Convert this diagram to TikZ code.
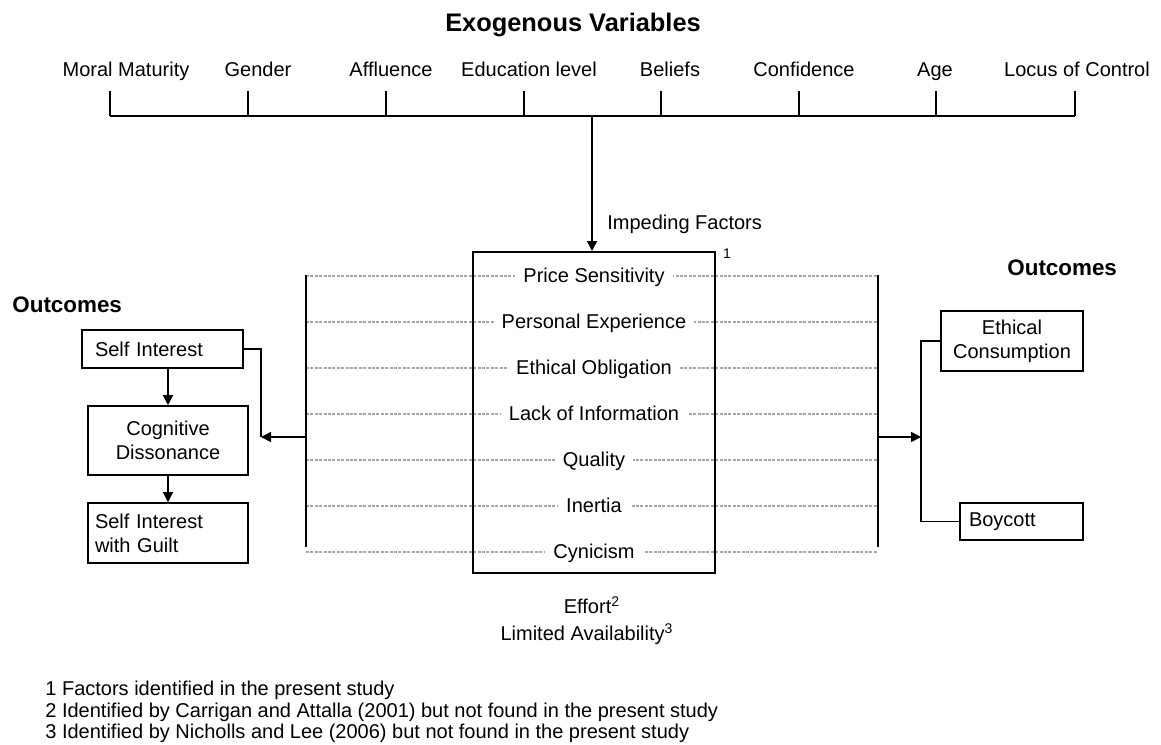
\documentclass[tikz,border=0pt]{standalone}
\usepackage{fontspec}
\setmainfont{Liberation Sans}
\usetikzlibrary{arrows.meta}

\tikzset{
  wire/.style={line width=0.8pt},
  arrow/.style={line width=0.8pt, -{Triangle[length=5pt,width=5pt]}},
  dotline/.style={line width=0.7pt, gray!70, dash pattern=on 1.5pt off 0.7pt},
  label/.style={text height=1.5ex, text depth=0.25ex},
  factor/.style={label, fill=white, inner xsep=4pt, inner ysep=1pt},
  outbox/.style={draw, line width=0.8pt, inner sep=0pt},
  heading/.style={font=\fontsize{11.2}{13}\selectfont\bfseries, inner sep=0pt},
  note/.style={font=\fontsize{7}{8}\selectfont},
}

\begin{document}
\begin{tikzpicture}[x=0.5pt, y=-0.5pt]
  %%%%% START %%%%%
  \useasboundingbox (0,0) rectangle (1161,744);

  \node[font=\fontsize{12.7}{15}\selectfont\bfseries] (exo) at (573,25) {Exogenous Variables};

  % exogenous variables on their bar
  \coordinate (barL) at (110,116);
  \coordinate (barR) at (1075,116);
  \foreach \name/\lx/\tx [count=\i] in {Moral Maturity/126/110, Gender/258/248, Affluence/391/386, Education level/529/524, Beliefs/670/661, Confidence/804/799, Age/935/936, Locus of Control/1077/1075}{
    \node[label] (var\i) at (\lx,70) {\name};
    \coordinate (tick\i) at (\tx,91);
    \draw[wire] (tick\i) -- (tick\i |- barL);
  }
  \draw[wire] (barL) -- (barR);

  % impeding factors
  \coordinate (lbT) at (306,275);
  \coordinate (lbB) at (306,547);
  \coordinate (rbT) at (878,275);
  \coordinate (rbB) at (878,547);
  \foreach \f [count=\i] in {Price Sensitivity, Personal Experience, Ethical Obligation, Lack of Information, Quality, Inertia, Cynicism}{
    \coordinate (row\i) at (594,{276+46*(\i-1)});
    \draw[dotline] (lbT |- row\i) -- (rbT |- row\i);
    \node[factor] (fac\i) at (row\i) {\f};
  }
  \draw[wire] (lbT) -- (lbB);
  \draw[wire] (rbT) -- (rbB);

  \node[draw, line width=1pt, minimum width=121pt, minimum height=160.5pt] (box) at (594,412.5) {};
  \coordinate (drop) at (592,116);
  \draw[arrow] (drop) -- (drop |- box.north);
  \node[anchor=west, inner sep=0pt] (imp) at (607,224) {Impeding Factors};
  \node[note] (sup1) at (727,254) {1};

  % outcomes, left
  \node[heading, anchor=west] (outL) at (12,305) {Outcomes};
  \node[outbox, minimum width=80.5pt, minimum height=19pt, text width=67.5pt, align=left] (self) at (162.5,349) {Self Interest};
  \node[outbox, minimum width=80pt, minimum height=34.5pt, align=center] (cog) at (168,440.5) {Cognitive\\Dissonance};
  \node[outbox, minimum width=80pt, minimum height=30pt, text width=73pt, align=left] (guilt) at (168,533) {Self Interest\\with Guilt};
  \draw[arrow, line width=0.6pt] (cog.north |- self.south) -- (cog.north);
  \draw[arrow, line width=0.6pt] (cog.south) -- (guilt.north);
  \coordinate (lsplit) at (261,437);
  \draw[wire] (self.east) -| (lsplit);
  \draw[arrow] (lbT |- lsplit) -- (lsplit);

  % outcomes, right
  \node[heading, anchor=west] (outR) at (1007,268) {Outcomes};
  \node[outbox, minimum width=71pt, minimum height=30pt, align=center] (ethic) at (1012,341) {Ethical\\Consumption};
  \node[outbox, minimum width=61.5pt, minimum height=18.5pt, text width=52.5pt, align=left] (boy) at (1021.5,521.5) {Boycott};
  \coordinate (rsplit) at (921,437);
  \draw[arrow] (rbT |- rsplit) -- (rsplit);
  \draw[wire] (ethic.west) -| (rsplit) |- (boy.west);

  % other factors and notes
  \node (eff) at (592,605) {Effort\textsuperscript{2}};
  \node (lim) at (587,634) {Limited Availability\textsuperscript{3}};
  \node[anchor=west, align=left, inner sep=0pt, font=\fontsize{10}{10.8}\selectfont] (notes) at (45,712) {1 Factors identified in the present study\\2 Identified by Carrigan and Attalla (2001) but not found in the present study\\3 Identified by Nicholls and Lee (2006) but not found in the present study};

  %%%%% END %%%%%
\end{tikzpicture}
\end{document}
